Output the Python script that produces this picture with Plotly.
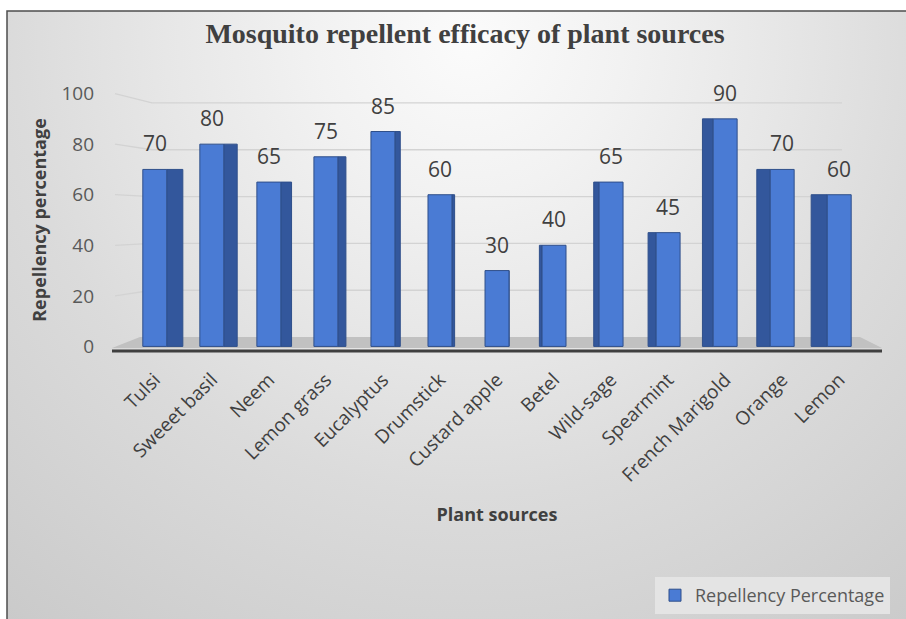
import base64
import plotly.graph_objects as go

# ---- data ----
plants = ["Tulsi", "Sweeet basil", "Neem", "Lemon grass", "Eucalyptus", "Drumstick",
          "Custard apple", "Betel", "Wild-sage", "Spearmint", "French Marigold",
          "Orange", "Lemon"]
repellency = [70, 80, 65, 75, 85, 60, 30, 40, 65, 45, 90, 70, 60]
y_ticks = [0, 20, 40, 60, 80, 100]

# ---- figure geometry ----
FIG_W, FIG_H = 906, 619
M_L, M_R, M_T, M_B = 112, 24, 86, 265
PLOT_W = FIG_W - M_L - M_R
PLOT_H = FIG_H - M_T - M_B
Y_RANGE = [-3, 103]

SANS = "Open Sans"
FRONT = "#4a7bd4"
SIDE = "#33579c"
EDGE = "#2f4f8a"


def paper_x(px):
    return (px - M_L) / PLOT_W


def paper_y(py):
    return (FIG_H - M_B - py) / PLOT_H


# back wall of the 3-D box sits a little higher and is slightly compressed
WALL_BASE, WALL_SCALE = 3.7, 0.926


def wall(v):
    return WALL_BASE + WALL_SCALE * v


# column depth seen in perspective: right side on the left half, left side on the right half
FACE_W = 0.42
depth = [0.047 * (6 - i) for i in range(len(plants))]
side_offset = [FACE_W / 2 if d >= 0 else -FACE_W / 2 + d for d in depth]
side_width = [abs(d) for d in depth]

fig = go.Figure()

# side faces of the columns
fig.add_trace(go.Bar(
    x=plants, y=repellency, offset=side_offset, width=side_width,
    marker=dict(color=SIDE, line=dict(color=EDGE, width=1)),
    showlegend=False, hoverinfo="skip",
))

# front faces of the columns
fig.add_trace(go.Bar(
    x=plants, y=repellency, width=FACE_W,
    name="Repellency Percentage",
    marker=dict(color=FRONT, line=dict(color=EDGE, width=1)),
))

# value labels above each column
for p, v in zip(plants, repellency):
    fig.add_annotation(x=p, y=v, text=str(v), showarrow=False, yanchor="bottom",
                       yshift=10, font=dict(family=SANS, size=21, color="#404040"))

shapes = []
# floor of the 3-D box
shapes.append(dict(
    type="path", xref="paper", yref="y", layer="below",
    path=(f"M {paper_x(112)},{-0.6} L {paper_x(140)},{wall(0)} "
          f"L {paper_x(860)},{wall(0)} L {paper_x(882)},{-0.6} Z"),
    fillcolor="#c1c1c1", line=dict(width=0),
))
# front edge of the floor
shapes.append(dict(
    type="line", xref="paper", yref="y", layer="below",
    x0=paper_x(112), x1=paper_x(882), y0=-1.8, y1=-1.8,
    line=dict(color="#3f3f3f", width=3),
))
# gridlines on the side and back walls
for v in y_ticks[1:]:
    shapes.append(dict(
        type="path", xref="paper", yref="y", layer="below",
        path=(f"M {paper_x(115)},{v} L {paper_x(152)},{wall(v)} "
              f"L {paper_x(842)},{wall(v)}"),
        line=dict(color="#d3d3d3", width=1.3),
    ))

# chart area background with a soft radial shading and a frame
svg = f'''<svg xmlns="http://www.w3.org/2000/svg" width="{FIG_W}" height="{FIG_H}" viewBox="0 0 {FIG_W} {FIG_H}">
<defs><radialGradient id="g" gradientUnits="userSpaceOnUse" cx="470" cy="40" r="760">
<stop offset="0" stop-color="#fbfbfb"/>
<stop offset="0.2" stop-color="#f2f2f2"/>
<stop offset="0.4" stop-color="#e7e7e7"/>
<stop offset="0.6" stop-color="#dbdbdb"/>
<stop offset="1" stop-color="#c9c9c9"/>
</radialGradient></defs>
<rect x="0" y="0" width="{FIG_W}" height="{FIG_H}" fill="#ffffff"/>
<rect x="7" y="11" width="{FIG_W + 10}" height="{FIG_H + 10}" fill="url(#g)" stroke="#4d4d4d" stroke-width="1.5"/>
</svg>'''
bg_uri = "data:image/svg+xml;base64," + base64.b64encode(svg.encode()).decode()

fig.update_layout(
    width=FIG_W, height=FIG_H,
    margin=dict(l=M_L, r=M_R, t=M_T, b=M_B, autoexpand=False),
    paper_bgcolor="#ffffff", plot_bgcolor="rgba(0,0,0,0)",
    barmode="overlay",
    shapes=shapes,
    images=[dict(source=bg_uri, xref="paper", yref="paper",
                 x=paper_x(0), y=paper_y(0), sizex=FIG_W / PLOT_W, sizey=FIG_H / PLOT_H,
                 xanchor="left", yanchor="top", sizing="stretch", layer="below")],
    title=dict(text="<b>Mosquito repellent efficacy of plant sources</b>",
               xref="container", yref="container", x=465 / FIG_W, y=1 - 33 / FIG_H,
               xanchor="center", yanchor="middle",
               font=dict(family="Liberation Serif", size=28, color="#404040")),
    font=dict(family=SANS, color="#404040"),
    showlegend=True,
    legend=dict(x=paper_x(655), y=paper_y(577), xanchor="left", yanchor="top",
                bgcolor="#e4e4e4", font=dict(family=SANS, size=18, color="#595959")),
    xaxis=dict(
        range=[-0.75, len(plants) - 0.25], tickangle=-45,
        tickfont=dict(family=SANS, size=19, color="#404040"),
        showgrid=False, zeroline=False, showline=False, ticks="",
        ticklabelstandoff=10,
        title=dict(text="<b>Plant sources</b>", standoff=22,
                   font=dict(family=SANS, size=18, color="#404040")),
    ),
    yaxis=dict(
        range=Y_RANGE, tickvals=y_ticks,
        tickfont=dict(family=SANS, size=19, color="#595959"),
        showgrid=False, zeroline=False, showline=False, ticks="",
        ticklabelstandoff=17,
        title=dict(text="<b>Repellency percentage</b>", standoff=10,
                   font=dict(family=SANS, size=18, color="#404040")),
    ),
)

fig.write_html("out.html")
